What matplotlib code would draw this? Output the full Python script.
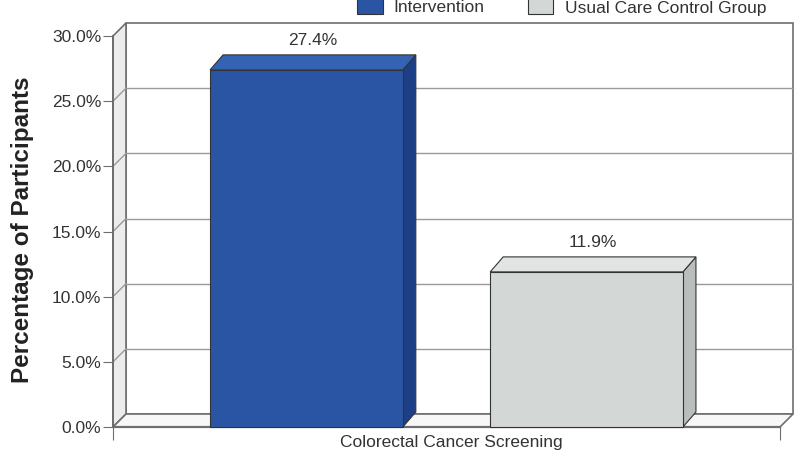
import matplotlib
matplotlib.use("Agg")
import matplotlib.pyplot as plt
from matplotlib.patches import Polygon, Rectangle

plt.rcParams["font.family"] = ["Liberation Sans", "DejaVu Sans"]

# ---- data ----
categories = ["Colorectal Cancer Screening"]
series_names = ["Intervention", "Usual Care Control Group"]
series_values = [27.4, 11.9]
value_labels = ["27.4%", "11.9%"]
y_ticks = [0, 5, 10, 15, 20, 25, 30]
y_tick_labels = ["0.0%", "5.0%", "10.0%", "15.0%", "20.0%", "25.0%", "30.0%"]

front_colors = ["#2a55a5", "#d3d7d5"]
top_colors = ["#3563b3", "#e1e4e2"]
side_colors = ["#1d3f86", "#b9bdbb"]

W, H = 798, 451
fig = plt.figure(figsize=(W / 100, H / 100), dpi=100)
fig.patch.set_facecolor("white")

# front plane of the plot: x 113..780 px, y 427..36 px
x0, x1 = 113, 780
y0, y1 = 427, 36
ax = fig.add_axes([x0 / W, (H - y0) / H, (x1 - x0) / W, (y0 - y1) / H])
ax.set_xlim(0, 1)
ax.set_ylim(0, 30)
ax.patch.set_visible(False)
for s in ax.spines.values():
    s.set_visible(False)

ppx = (x1 - x0) / 1.0
ppy = (y0 - y1) / 30.0
wdx = 13 / ppx
wdy = 13 / ppy
bdx = 13 / ppx
bdy = 15 / ppy

grid_c = "#9a9a9a"
edge_c = "#6e6e6e"
text_c = "#333333"

# back wall
ax.add_patch(Polygon([(wdx, wdy), (1 + wdx, wdy), (1 + wdx, 30 + wdy), (wdx, 30 + wdy)],
                     closed=True, facecolor="white", edgecolor=edge_c, lw=1.2,
                     clip_on=False, zorder=1))
# left wall
ax.add_patch(Polygon([(0, 0), (wdx, wdy), (wdx, 30 + wdy), (0, 30)],
                     closed=True, facecolor="#ececec", edgecolor=edge_c, lw=1.2,
                     clip_on=False, zorder=1))
# floor
ax.add_patch(Polygon([(0, 0), (1, 0), (1 + wdx, wdy), (wdx, wdy)],
                     closed=True, facecolor="#f7f7f7", edgecolor=edge_c, lw=1.2,
                     clip_on=False, zorder=1))
for v in y_ticks[1:-1]:
    ax.plot([wdx, 1 + wdx], [v + wdy, v + wdy], color=grid_c, lw=1.0, zorder=1.5, clip_on=False)
    ax.plot([0, wdx], [v, v + wdy], color=grid_c, lw=1.0, zorder=1.5, clip_on=False)
ax.plot([0, 0], [0, 30], color=edge_c, lw=1.4, zorder=2, clip_on=False)
ax.plot([0, 1], [0, 0], color=edge_c, lw=1.6, zorder=2, clip_on=False)

# bars
centers = [0.29, 0.71]
bw = 0.289
for i, v in enumerate(series_values):
    l = centers[i] - bw / 2
    r = centers[i] + bw / 2
    ax.add_patch(Polygon([(r, 0), (r + bdx, bdy), (r + bdx, v + bdy), (r, v)], closed=True,
                         facecolor=side_colors[i], edgecolor="#333333", lw=0.8,
                         clip_on=False, zorder=3))
    ax.add_patch(Polygon([(l, v), (r, v), (r + bdx, v + bdy), (l + bdx, v + bdy)], closed=True,
                         facecolor=top_colors[i], edgecolor="#333333", lw=0.8,
                         clip_on=False, zorder=3))
    ax.add_patch(Rectangle((l, 0), bw, v, facecolor=front_colors[i], edgecolor="#333333",
                           lw=0.8, clip_on=False, zorder=4))
    ax.text(centers[i] + bdx / 2, v + bdy + 0.55, value_labels[i], ha="center", va="bottom",
            fontsize=12.5, color=text_c, zorder=5)

# axes ticks
ax.set_yticks(y_ticks)
ax.set_yticklabels(y_tick_labels)
ax.tick_params(axis="y", direction="out", length=7, pad=1.5, color=edge_c,
               labelsize=12.5, labelcolor=text_c)
ax.set_xticks([0, 1])
ax.set_xticklabels(["", ""])
ax.tick_params(axis="x", direction="out", length=9, color=edge_c)

# x label (category) near the bottom edge
fig.text(451 / W, (H - 446.5) / H, categories[0], ha="center", va="baseline",
         fontsize=12.5, color=text_c)
ax.set_ylabel("Percentage of Participants", fontsize=17.5, fontweight="bold", color="#222222")
ax.yaxis.set_label_coords((23 - x0) / (x1 - x0), (427 - 230) / (y0 - y1))
ax.yaxis.label.set_va("center")

# legend at the top
def fx(px):
    return px / W

def fy(py):
    return (H - py) / H

leg_boxes = [(357, 383), (528, 553)]
leg_text_x = [393, 565]
for i, name in enumerate(series_names):
    bx0, bx1 = leg_boxes[i]
    fig.patches.append(Rectangle((fx(bx0), fy(14)), fx(bx1) - fx(bx0), fy(-6) - fy(14),
                                 transform=fig.transFigure, facecolor=front_colors[i],
                                 edgecolor="#333333", lw=0.8))
    fig.text(fx(leg_text_x[i]), fy(8), name, ha="left", va="center", fontsize=12.5,
             color=text_c)

fig.savefig("out.png", dpi=100, facecolor="white")
